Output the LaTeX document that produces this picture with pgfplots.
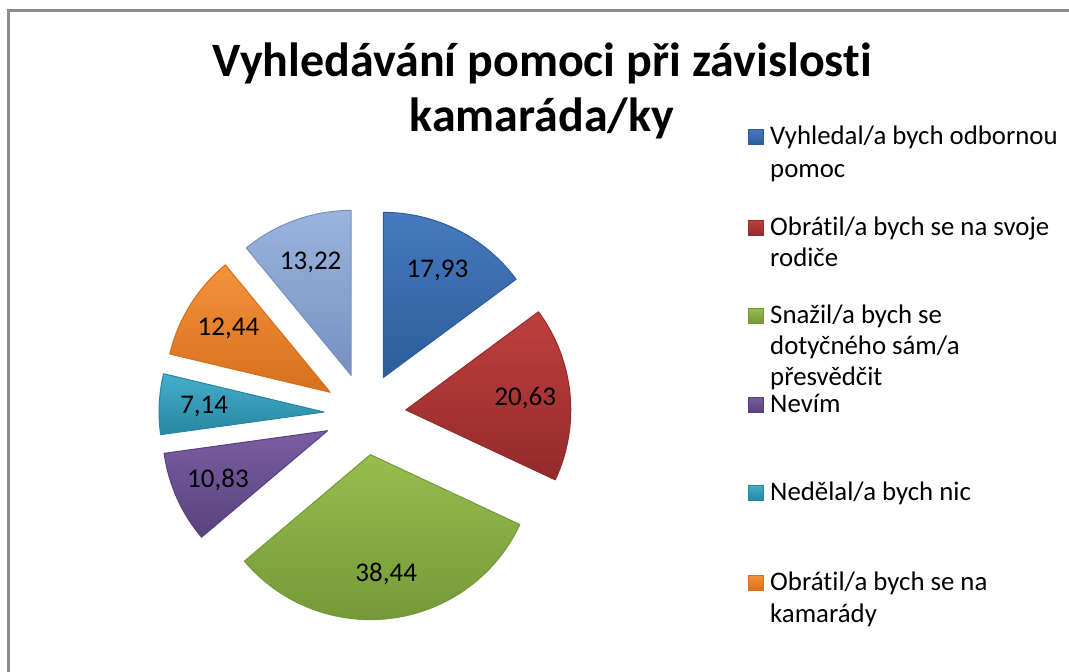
\documentclass[border=0pt]{standalone}
\usepackage{pgfplots}
\pgfplotsset{compat=1.18}
\usepackage{fontspec}
\setmainfont{Carlito}[Ligatures={NoCommon}]
\definecolor{frame}{RGB}{140,140,140}
\definecolor{bAt}{RGB}{70,122,190}\definecolor{bAb}{RGB}{44,92,156}
\definecolor{bBt}{RGB}{190,64,62}\definecolor{bBb}{RGB}{148,42,42}
\definecolor{bCt}{RGB}{150,190,78}\definecolor{bCb}{RGB}{116,152,56}
\definecolor{bDt}{RGB}{122,94,162}\definecolor{bDb}{RGB}{88,66,126}
\definecolor{bEt}{RGB}{68,174,204}\definecolor{bEb}{RGB}{40,134,160}
\definecolor{bFt}{RGB}{244,146,58}\definecolor{bFb}{RGB}{214,112,30}
\definecolor{bGt}{RGB}{154,180,222}\definecolor{bGb}{RGB}{118,145,192}
\newcommand\lbl{\fontsize{27}{32}\selectfont}
\newcommand\leg{\fontsize{26.8}{31}\selectfont}
\begin{document}
\begin{tikzpicture}
\def\Cx{365}\def\Cy{414}\def\D{41}\def\R{165}\def\L{120}
% data values
\def\vA{17.93}\def\vB{20.63}\def\vC{38.44}\def\vD{10.83}\def\vE{7.14}\def\vF{12.44}\def\vG{13.22}
\pgfmathsetmacro\T{\vA+\vB+\vC+\vD+\vE+\vF+\vG}
\pgfmathsetmacro\aA{90}
\pgfmathsetmacro\aB{\aA-360*\vA/\T}
\pgfmathsetmacro\aC{\aB-360*\vB/\T}
\pgfmathsetmacro\aD{\aC-360*\vC/\T}
\pgfmathsetmacro\aE{\aD-360*\vD/\T}
\pgfmathsetmacro\aF{\aE-360*\vE/\T}
\pgfmathsetmacro\aG{\aF-360*\vF/\T}
\pgfmathsetmacro\aH{\aG-360*\vG/\T}
\newcommand\slice[5]{%
  \pgfmathsetmacro\mm{(#1+#2)/2}%
  \pgfmathsetmacro\ax{\Cx+\D*cos(\mm)}%
  \pgfmathsetmacro\ay{\Cy-\D*sin(\mm)}%
  \pgfmathsetmacro\lx{\ax+\L*cos(\mm)}%
  \pgfmathsetmacro\ly{\ay-\L*sin(\mm)}%
  \edef\doit{\noexpand\path[top color=#3, bottom color=#4, draw=#4, line width=1pt, line join=round] (axis cs:\ax,\ay) -- ++(#1:\R pt) arc[start angle=#1, end angle=#2, radius=\R pt] -- cycle;
  \noexpand\node[font=\noexpand\lbl] at (axis cs:\lx,\ly) {#5};}%
  \doit}
\newcommand\legmark[3]{%
  \edef\doit{\noexpand\path[top color=#1, bottom color=#2, draw=#2, line width=0.8pt] (axis cs:748,#3-15) rectangle (axis cs:763,#3);}%
  \doit}
\begin{axis}[hide axis, x=1pt, y=1pt, xmin=0, xmax=1069, ymin=0, ymax=672, y dir=reverse, clip=false]
\path[fill=white] (axis cs:0,0) rectangle (axis cs:1069,672);
\draw[frame, line width=3pt] (axis cs:8,672) -- (axis cs:8,10) -- (axis cs:1069,10);
\slice{\aA}{\aB}{bAt}{bAb}{17,93}
\slice{\aB}{\aC}{bBt}{bBb}{20,63}
\slice{\aC}{\aD}{bCt}{bCb}{38,44}
\slice{\aD}{\aE}{bDt}{bDb}{10,83}
\slice{\aE}{\aF}{bEt}{bEb}{7,14}
\slice{\aF}{\aG}{bFt}{bFb}{12,44}
\slice{\aG}{\aH}{bGt}{bGb}{13,22}
% title
\node[anchor=base, font=\fontsize{48}{58}\selectfont\bfseries] at (axis cs:542,76) {Vyhledávání pomoci při závislosti};
\node[anchor=base, font=\fontsize{48}{58}\selectfont\bfseries] at (axis cs:542,131) {kamaráda/ky};
% legend
\legmark{bAt}{bAb}{144}
\legmark{bBt}{bBb}{235}
\legmark{bCt}{bCb}{323}
\legmark{bDt}{bDb}{412}
\legmark{bEt}{bEb}{500}
\legmark{bFt}{bFb}{590}
\node[anchor=base west, font=\leg, inner sep=0pt] at (axis cs:770,144) {Vyhledal/a bych odbornou};
\node[anchor=base west, font=\leg, inner sep=0pt] at (axis cs:770,177) {pomoc};
\node[anchor=base west, font=\leg, inner sep=0pt] at (axis cs:770,235) {Obrátil/a bych se na svoje};
\node[anchor=base west, font=\leg, inner sep=0pt] at (axis cs:770,266) {rodiče};
\node[anchor=base west, font=\leg, inner sep=0pt] at (axis cs:770,323) {Snažil/a bych se};
\node[anchor=base west, font=\leg, inner sep=0pt] at (axis cs:770,354) {dotyčného sám/a};
\node[anchor=base west, font=\leg, inner sep=0pt] at (axis cs:770,385) {přesvědčit};
\node[anchor=base west, font=\leg, inner sep=0pt] at (axis cs:770,412) {Nevím};
\node[anchor=base west, font=\leg, inner sep=0pt] at (axis cs:770,500) {Nedělal/a bych nic};
\node[anchor=base west, font=\leg, inner sep=0pt] at (axis cs:770,590) {Obrátil/a bych se na};
\node[anchor=base west, font=\leg, inner sep=0pt] at (axis cs:770,622) {kamarády};
\end{axis}
\pgfresetboundingbox
\path[use as bounding box] (current axis.south west) rectangle (current axis.north east);
\end{tikzpicture}
\end{document}
